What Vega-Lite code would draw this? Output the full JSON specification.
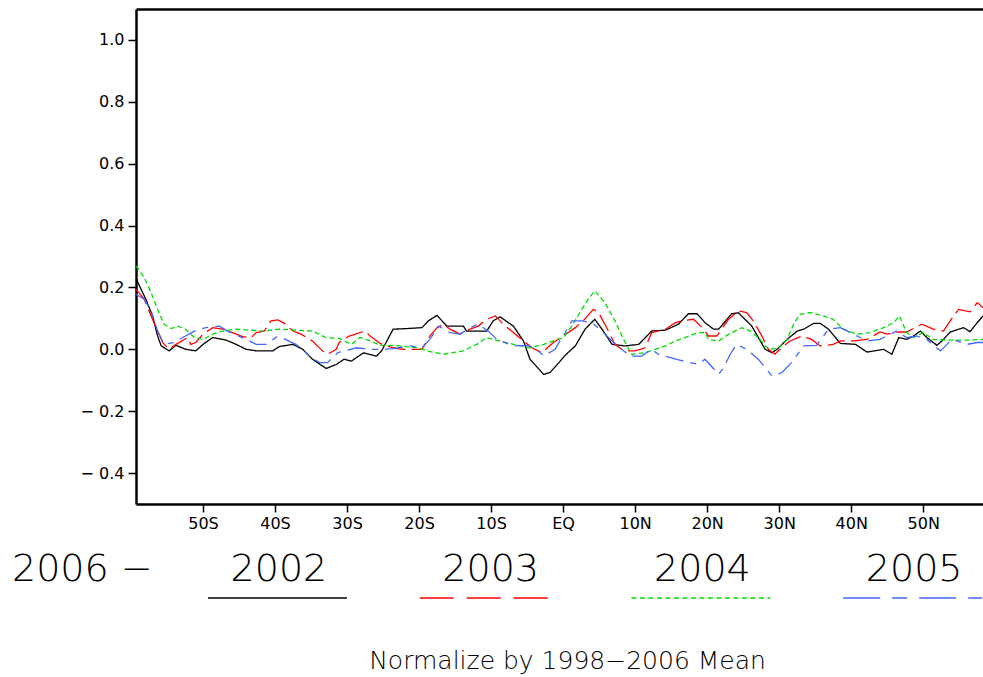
{
"$schema":"https://vega.github.io/schema/vega-lite/v6.json",
"padding":{"left":12,"top":9,"right":0,"bottom":0},
"spacing":10,
"config":{"view":{"stroke":null},"axis":{"grid":false,"domainColor":"black","tickColor":"black","labelColor":"black","labelFont":"DejaVu Sans","labelFontSize":16}},
"datasets":{
"legend":[{"year":"2002"},{"year":"2003"},{"year":"2004"},{"year":"2005"}],
"series":[
{"year":"2002","lat":-59.3,"value":0.229},{"year":"2002","lat":-57.9,"value":0.16},{"year":"2002","lat":-57.0,"value":0.108},{"year":"2002","lat":-56.3,"value":0.043},{"year":"2002","lat":-55.8,"value":0.011},{"year":"2002","lat":-54.7,"value":-0.005},{"year":"2002","lat":-53.75,"value":0.013},{"year":"2002","lat":-52.4,"value":0.0},{"year":"2002","lat":-51.0,"value":-0.005},{"year":"2002","lat":-50.0,"value":0.016},{"year":"2002","lat":-48.65,"value":0.038},{"year":"2002","lat":-46.8,"value":0.03},{"year":"2002","lat":-45.4,"value":0.016},{"year":"2002","lat":-44.0,"value":0.0},{"year":"2002","lat":-42.6,"value":-0.005},{"year":"2002","lat":-40.3,"value":-0.005},{"year":"2002","lat":-39.4,"value":0.009},{"year":"2002","lat":-37.5,"value":0.016},{"year":"2002","lat":-36.15,"value":0.0},{"year":"2002","lat":-34.8,"value":-0.032},{"year":"2002","lat":-32.9,"value":-0.062},{"year":"2002","lat":-31.5,"value":-0.049},{"year":"2002","lat":-30.4,"value":-0.032},{"year":"2002","lat":-29.4,"value":-0.038},{"year":"2002","lat":-27.7,"value":-0.011},{"year":"2002","lat":-25.9,"value":-0.022},{"year":"2002","lat":-25.2,"value":-0.005},{"year":"2002","lat":-23.6,"value":0.065},{"year":"2002","lat":-21.7,"value":0.067},{"year":"2002","lat":-19.6,"value":0.07},{"year":"2002","lat":-18.7,"value":0.092},{"year":"2002","lat":-17.5,"value":0.11},{"year":"2002","lat":-16.15,"value":0.075},{"year":"2002","lat":-13.85,"value":0.075},{"year":"2002","lat":-13.4,"value":0.059},{"year":"2002","lat":-10.6,"value":0.059},{"year":"2002","lat":-9.7,"value":0.092},{"year":"2002","lat":-8.75,"value":0.105},{"year":"2002","lat":-6.9,"value":0.075},{"year":"2002","lat":-5.5,"value":0.027},{"year":"2002","lat":-4.6,"value":-0.032},{"year":"2002","lat":-2.7,"value":-0.081},{"year":"2002","lat":-1.8,"value":-0.075},{"year":"2002","lat":-0.4,"value":-0.038},{"year":"2002","lat":0.3,"value":-0.019},{"year":"2002","lat":1.7,"value":0.011},{"year":"2002","lat":3.05,"value":0.065},{"year":"2002","lat":4.4,"value":0.097},{"year":"2002","lat":5.4,"value":0.065},{"year":"2002","lat":6.8,"value":0.016},{"year":"2002","lat":8.6,"value":0.011},{"year":"2002","lat":10.5,"value":0.016},{"year":"2002","lat":12.3,"value":0.059},{"year":"2002","lat":14.2,"value":0.062},{"year":"2002","lat":16.0,"value":0.081},{"year":"2002","lat":17.4,"value":0.115},{"year":"2002","lat":18.6,"value":0.115},{"year":"2002","lat":19.7,"value":0.086},{"year":"2002","lat":20.9,"value":0.065},{"year":"2002","lat":21.6,"value":0.065},{"year":"2002","lat":23.4,"value":0.115},{"year":"2002","lat":24.35,"value":0.118},{"year":"2002","lat":26.2,"value":0.075},{"year":"2002","lat":28.05,"value":0.0},{"year":"2002","lat":29.0,"value":-0.011},{"year":"2002","lat":29.7,"value":0.0},{"year":"2002","lat":31.1,"value":0.032},{"year":"2002","lat":32.5,"value":0.059},{"year":"2002","lat":33.4,"value":0.065},{"year":"2002","lat":34.8,"value":0.084},{"year":"2002","lat":35.7,"value":0.084},{"year":"2002","lat":36.85,"value":0.065},{"year":"2002","lat":38.5,"value":0.019},{"year":"2002","lat":40.6,"value":0.016},{"year":"2002","lat":42.2,"value":-0.009},{"year":"2002","lat":44.5,"value":0.0},{"year":"2002","lat":45.65,"value":-0.016},{"year":"2002","lat":46.6,"value":0.038},{"year":"2002","lat":47.7,"value":0.032},{"year":"2002","lat":48.65,"value":0.043},{"year":"2002","lat":49.6,"value":0.059},{"year":"2002","lat":50.5,"value":0.038},{"year":"2002","lat":51.9,"value":0.013},{"year":"2002","lat":52.6,"value":0.027},{"year":"2002","lat":53.75,"value":0.056},{"year":"2002","lat":55.6,"value":0.07},{"year":"2002","lat":56.5,"value":0.057},{"year":"2002","lat":57.5,"value":0.086},{"year":"2002","lat":58.3,"value":0.108},
{"year":"2003","lat":-59.3,"value":0.194},{"year":"2003","lat":-58.15,"value":0.162},{"year":"2003","lat":-57.2,"value":0.108},{"year":"2003","lat":-56.3,"value":0.059},{"year":"2003","lat":-55.6,"value":0.022},{"year":"2003","lat":-54.7,"value":0.0},{"year":"2003","lat":-53.75,"value":0.016},{"year":"2003","lat":-52.1,"value":0.038},{"year":"2003","lat":-51.7,"value":0.016},{"year":"2003","lat":-51.0,"value":0.022},{"year":"2003","lat":-50.0,"value":0.049},{"year":"2003","lat":-48.65,"value":0.07},{"year":"2003","lat":-47.3,"value":0.065},{"year":"2003","lat":-45.9,"value":0.054},{"year":"2003","lat":-44.5,"value":0.041},{"year":"2003","lat":-43.3,"value":0.038},{"year":"2003","lat":-42.6,"value":0.054},{"year":"2003","lat":-41.5,"value":0.059},{"year":"2003","lat":-40.55,"value":0.092},{"year":"2003","lat":-39.6,"value":0.095},{"year":"2003","lat":-38.7,"value":0.084},{"year":"2003","lat":-37.5,"value":0.059},{"year":"2003","lat":-36.4,"value":0.049},{"year":"2003","lat":-34.8,"value":0.027},{"year":"2003","lat":-33.4,"value":-0.005},{"year":"2003","lat":-32.7,"value":-0.016},{"year":"2003","lat":-31.5,"value":0.0},{"year":"2003","lat":-31.1,"value":0.022},{"year":"2003","lat":-29.7,"value":0.043},{"year":"2003","lat":-27.5,"value":0.059},{"year":"2003","lat":-26.8,"value":0.043},{"year":"2003","lat":-25.4,"value":0.019},{"year":"2003","lat":-23.6,"value":0.005},{"year":"2003","lat":-22.2,"value":0.0},{"year":"2003","lat":-19.6,"value":0.0},{"year":"2003","lat":-18.5,"value":0.043},{"year":"2003","lat":-17.5,"value":0.07},{"year":"2003","lat":-16.6,"value":0.081},{"year":"2003","lat":-15.7,"value":0.065},{"year":"2003","lat":-14.3,"value":0.049},{"year":"2003","lat":-12.9,"value":0.065},{"year":"2003","lat":-11.8,"value":0.075},{"year":"2003","lat":-10.6,"value":0.097},{"year":"2003","lat":-9.4,"value":0.108},{"year":"2003","lat":-8.3,"value":0.081},{"year":"2003","lat":-6.9,"value":0.054},{"year":"2003","lat":-5.5,"value":0.027},{"year":"2003","lat":-4.35,"value":0.005},{"year":"2003","lat":-2.95,"value":-0.011},{"year":"2003","lat":-1.35,"value":0.022},{"year":"2003","lat":0.05,"value":0.043},{"year":"2003","lat":1.7,"value":0.07},{"year":"2003","lat":2.8,"value":0.092},{"year":"2003","lat":4.2,"value":0.129},{"year":"2003","lat":4.9,"value":0.119},{"year":"2003","lat":5.8,"value":0.081},{"year":"2003","lat":6.5,"value":0.049},{"year":"2003","lat":7.2,"value":0.016},{"year":"2003","lat":8.4,"value":-0.005},{"year":"2003","lat":10.0,"value":-0.005},{"year":"2003","lat":11.4,"value":0.005},{"year":"2003","lat":12.3,"value":0.054},{"year":"2003","lat":14.2,"value":0.065},{"year":"2003","lat":15.6,"value":0.086},{"year":"2003","lat":16.5,"value":0.092},{"year":"2003","lat":18.1,"value":0.097},{"year":"2003","lat":19.3,"value":0.07},{"year":"2003","lat":20.2,"value":0.043},{"year":"2003","lat":21.35,"value":0.043},{"year":"2003","lat":22.96,"value":0.097},{"year":"2003","lat":24.35,"value":0.124},{"year":"2003","lat":25.5,"value":0.119},{"year":"2003","lat":26.4,"value":0.092},{"year":"2003","lat":27.6,"value":0.043},{"year":"2003","lat":28.5,"value":0.0},{"year":"2003","lat":29.4,"value":-0.016},{"year":"2003","lat":30.1,"value":0.0},{"year":"2003","lat":31.5,"value":0.027},{"year":"2003","lat":33.15,"value":0.043},{"year":"2003","lat":34.5,"value":0.032},{"year":"2003","lat":35.7,"value":0.011},{"year":"2003","lat":37.5,"value":0.016},{"year":"2003","lat":38.5,"value":0.027},{"year":"2003","lat":40.3,"value":0.027},{"year":"2003","lat":42.2,"value":0.032},{"year":"2003","lat":44.0,"value":0.056},{"year":"2003","lat":44.96,"value":0.049},{"year":"2003","lat":46.6,"value":0.056},{"year":"2003","lat":47.7,"value":0.056},{"year":"2003","lat":49.8,"value":0.081},{"year":"2003","lat":51.4,"value":0.065},{"year":"2003","lat":52.8,"value":0.059},{"year":"2003","lat":53.75,"value":0.092},{"year":"2003","lat":54.9,"value":0.129},{"year":"2003","lat":56.5,"value":0.121},{"year":"2003","lat":57.5,"value":0.151},{"year":"2003","lat":58.3,"value":0.135},
{"year":"2004","lat":-59.3,"value":0.27},{"year":"2004","lat":-58.15,"value":0.232},{"year":"2004","lat":-57.2,"value":0.183},{"year":"2004","lat":-56.3,"value":0.129},{"year":"2004","lat":-55.4,"value":0.081},{"year":"2004","lat":-54.4,"value":0.067},{"year":"2004","lat":-53.5,"value":0.075},{"year":"2004","lat":-52.4,"value":0.065},{"year":"2004","lat":-51.2,"value":0.038},{"year":"2004","lat":-50.0,"value":0.032},{"year":"2004","lat":-48.65,"value":0.049},{"year":"2004","lat":-47.3,"value":0.059},{"year":"2004","lat":-45.4,"value":0.065},{"year":"2004","lat":-43.6,"value":0.062},{"year":"2004","lat":-41.7,"value":0.059},{"year":"2004","lat":-39.4,"value":0.065},{"year":"2004","lat":-37.1,"value":0.062},{"year":"2004","lat":-34.8,"value":0.059},{"year":"2004","lat":-32.9,"value":0.038},{"year":"2004","lat":-31.1,"value":0.035},{"year":"2004","lat":-29.4,"value":0.016},{"year":"2004","lat":-28.2,"value":0.038},{"year":"2004","lat":-26.8,"value":0.027},{"year":"2004","lat":-25.4,"value":0.013},{"year":"2004","lat":-23.6,"value":0.013},{"year":"2004","lat":-20.3,"value":0.005},{"year":"2004","lat":-18.9,"value":-0.005},{"year":"2004","lat":-16.6,"value":-0.016},{"year":"2004","lat":-13.85,"value":-0.005},{"year":"2004","lat":-12.0,"value":0.016},{"year":"2004","lat":-10.6,"value":0.038},{"year":"2004","lat":-9.2,"value":0.029},{"year":"2004","lat":-6.9,"value":0.016},{"year":"2004","lat":-4.6,"value":0.005},{"year":"2004","lat":-2.7,"value":0.016},{"year":"2004","lat":-1.35,"value":0.027},{"year":"2004","lat":0.05,"value":0.038},{"year":"2004","lat":1.2,"value":0.075},{"year":"2004","lat":2.6,"value":0.129},{"year":"2004","lat":3.5,"value":0.162},{"year":"2004","lat":4.4,"value":0.189},{"year":"2004","lat":5.8,"value":0.151},{"year":"2004","lat":7.2,"value":0.092},{"year":"2004","lat":8.4,"value":0.032},{"year":"2004","lat":9.5,"value":-0.016},{"year":"2004","lat":11.4,"value":-0.011},{"year":"2004","lat":12.8,"value":0.0},{"year":"2004","lat":14.2,"value":0.011},{"year":"2004","lat":15.6,"value":0.027},{"year":"2004","lat":16.9,"value":0.038},{"year":"2004","lat":18.8,"value":0.054},{"year":"2004","lat":19.7,"value":0.054},{"year":"2004","lat":20.2,"value":0.032},{"year":"2004","lat":21.6,"value":0.027},{"year":"2004","lat":23.0,"value":0.049},{"year":"2004","lat":24.8,"value":0.07},{"year":"2004","lat":26.0,"value":0.059},{"year":"2004","lat":27.1,"value":0.038},{"year":"2004","lat":28.5,"value":0.0},{"year":"2004","lat":29.9,"value":0.003},{"year":"2004","lat":31.1,"value":0.032},{"year":"2004","lat":32.0,"value":0.081},{"year":"2004","lat":32.9,"value":0.113},{"year":"2004","lat":34.3,"value":0.119},{"year":"2004","lat":36.15,"value":0.108},{"year":"2004","lat":37.5,"value":0.097},{"year":"2004","lat":38.9,"value":0.065},{"year":"2004","lat":40.8,"value":0.049},{"year":"2004","lat":42.6,"value":0.054},{"year":"2004","lat":44.5,"value":0.07},{"year":"2004","lat":45.9,"value":0.086},{"year":"2004","lat":46.7,"value":0.108},{"year":"2004","lat":47.7,"value":0.054},{"year":"2004","lat":48.65,"value":0.038},{"year":"2004","lat":50.0,"value":0.054},{"year":"2004","lat":51.4,"value":0.032},{"year":"2004","lat":53.3,"value":0.03},{"year":"2004","lat":56.5,"value":0.03},{"year":"2004","lat":58.3,"value":0.032},
{"year":"2005","lat":-59.3,"value":0.178},{"year":"2005","lat":-58.15,"value":0.162},{"year":"2005","lat":-57.2,"value":0.124},{"year":"2005","lat":-56.3,"value":0.059},{"year":"2005","lat":-55.4,"value":0.016},{"year":"2005","lat":-54.0,"value":0.022},{"year":"2005","lat":-52.8,"value":0.038},{"year":"2005","lat":-51.2,"value":0.059},{"year":"2005","lat":-49.6,"value":0.07},{"year":"2005","lat":-47.7,"value":0.075},{"year":"2005","lat":-46.6,"value":0.059},{"year":"2005","lat":-44.0,"value":0.032},{"year":"2005","lat":-42.6,"value":0.016},{"year":"2005","lat":-41.25,"value":0.016},{"year":"2005","lat":-39.6,"value":0.043},{"year":"2005","lat":-37.1,"value":0.016},{"year":"2005","lat":-36.15,"value":0.0},{"year":"2005","lat":-35.0,"value":-0.027},{"year":"2005","lat":-33.8,"value":-0.043},{"year":"2005","lat":-32.7,"value":-0.043},{"year":"2005","lat":-31.3,"value":-0.011},{"year":"2005","lat":-28.65,"value":0.005},{"year":"2005","lat":-27.0,"value":0.0},{"year":"2005","lat":-25.2,"value":0.0},{"year":"2005","lat":-23.6,"value":0.002},{"year":"2005","lat":-21.25,"value":0.011},{"year":"2005","lat":-19.6,"value":0.005},{"year":"2005","lat":-18.5,"value":0.032},{"year":"2005","lat":-17.3,"value":0.075},{"year":"2005","lat":-15.7,"value":0.054},{"year":"2005","lat":-14.3,"value":0.049},{"year":"2005","lat":-12.9,"value":0.07},{"year":"2005","lat":-11.8,"value":0.081},{"year":"2005","lat":-10.4,"value":0.059},{"year":"2005","lat":-9.2,"value":0.032},{"year":"2005","lat":-6.9,"value":0.011},{"year":"2005","lat":-5.0,"value":0.013},{"year":"2005","lat":-3.65,"value":0.0},{"year":"2005","lat":-2.7,"value":-0.022},{"year":"2005","lat":-1.1,"value":0.0},{"year":"2005","lat":-0.2,"value":0.038},{"year":"2005","lat":0.3,"value":0.054},{"year":"2005","lat":1.2,"value":0.092},{"year":"2005","lat":2.6,"value":0.092},{"year":"2005","lat":4.0,"value":0.086},{"year":"2005","lat":5.1,"value":0.065},{"year":"2005","lat":6.8,"value":0.027},{"year":"2005","lat":7.9,"value":0.005},{"year":"2005","lat":9.3,"value":-0.022},{"year":"2005","lat":10.9,"value":-0.022},{"year":"2005","lat":12.3,"value":0.0},{"year":"2005","lat":13.2,"value":-0.016},{"year":"2005","lat":14.9,"value":-0.027},{"year":"2005","lat":16.7,"value":-0.038},{"year":"2005","lat":18.8,"value":-0.049},{"year":"2005","lat":19.7,"value":-0.032},{"year":"2005","lat":21.6,"value":-0.081},{"year":"2005","lat":22.3,"value":-0.059},{"year":"2005","lat":23.2,"value":-0.016},{"year":"2005","lat":24.1,"value":0.016},{"year":"2005","lat":25.5,"value":0.0},{"year":"2005","lat":27.1,"value":-0.032},{"year":"2005","lat":29.0,"value":-0.086},{"year":"2005","lat":30.4,"value":-0.075},{"year":"2005","lat":31.7,"value":-0.043},{"year":"2005","lat":32.9,"value":-0.005},{"year":"2005","lat":33.4,"value":0.011},{"year":"2005","lat":35.2,"value":0.013},{"year":"2005","lat":36.85,"value":0.065},{"year":"2005","lat":38.5,"value":0.07},{"year":"2005","lat":39.9,"value":0.054},{"year":"2005","lat":42.2,"value":0.027},{"year":"2005","lat":44.0,"value":0.032},{"year":"2005","lat":44.96,"value":0.043},{"year":"2005","lat":46.3,"value":0.059},{"year":"2005","lat":47.7,"value":0.038},{"year":"2005","lat":49.1,"value":0.043},{"year":"2005","lat":50.5,"value":0.032},{"year":"2005","lat":52.4,"value":-0.005},{"year":"2005","lat":54.0,"value":0.032},{"year":"2005","lat":56.1,"value":0.016},{"year":"2005","lat":57.5,"value":0.022},{"year":"2005","lat":58.3,"value":0.022}
]},
"resolve":{"scale":{"x":"independent","y":"independent","color":"independent","strokeDash":"independent"}},
"vconcat":[
{"width":847,"height":495,"data":{"name":"series"},
 "layer":[
  {"mark":{"type":"line","strokeWidth":1.3,"clip":true},
   "encoding":{
    "x":{"field":"lat","type":"quantitative","scale":{"domain":[-59.3,58.3],"nice":false,"zero":false},
         "axis":{"orient":"bottom","values":[-50,-40,-30,-20,-10,0,10,20,30,40,50],"labelExpr":"datum.value < 0 ? (-datum.value) + 'S' : (datum.value > 0 ? datum.value + 'N' : 'EQ')","tickSize":8,"tickWidth":1.5,"domainWidth":2.5,"labelPadding":3,"title":null,"labelFlush":false,"labelFont":"DejaVu Sans","labelFontSize":16}},
    "y":{"field":"value","type":"quantitative","scale":{"domain":[-0.5,1.1],"nice":false,"zero":false},
         "axis":{"values":[-0.4,-0.2,0,0.2,0.4,0.6,0.8,1.0],"labelExpr":"datum.value < 0 ? '− ' + format(-datum.value,'.1f') : format(datum.value,'.1f')","tickSize":8,"tickWidth":1.5,"domainWidth":2.5,"labelPadding":4,"title":null,"labelFont":"DejaVu Sans","labelFontSize":16}},
    "color":{"field":"year","type":"nominal","scale":{"domain":["2002","2003","2004","2005"],"range":["#000000","#ff0000","#00dd00","#4466ff"]},"legend":null},
    "strokeDash":{"field":"year","type":"nominal","scale":{"domain":["2002","2003","2004","2005"],"range":[[1,0],[18,6],[5,3],[18,7,6,7]]},"legend":null}
   }},
  {"mark":{"type":"rule","opacity":0},
   "encoding":{"x":{"field":"lat","type":"quantitative","axis":{"orient":"top","labels":false,"ticks":false,"domainWidth":2.5,"title":null}}}}
 ],
 "resolve":{"axis":{"x":"independent"}}
},
{"width":847,"height":60,"data":{"name":"legend"},
 "title":{"text":"Normalize by 1998−2006 Mean","orient":"bottom","anchor":"middle","offset":48,"dx":8,"font":"DejaVu Sans","fontSize":25,"fontWeight":300,"color":"black"},
 "layer":[
  {"mark":{"type":"text","font":"DejaVu Sans","fontSize":38,"fontWeight":200,"baseline":"alphabetic","align":"center","color":"black"},
   "encoding":{"x":{"field":"year","type":"ordinal","scale":{"type":"point","padding":0.5,"align":0.675},"axis":null},"y":{"value":40},"text":{"field":"year"}}},
  {"mark":{"type":"rule","strokeWidth":1.5,"xOffset":-71,"x2Offset":68},
   "encoding":{"x":{"field":"year","type":"ordinal","axis":null},"x2":{"field":"year"},"y":{"value":57},
    "color":{"field":"year","type":"nominal","scale":{"domain":["2002","2003","2004","2005"],"range":["#000000","#ff0000","#00dd00","#4466ff"]},"legend":null},
    "strokeDash":{"field":"year","type":"nominal","scale":{"domain":["2002","2003","2004","2005"],"range":[[1,0],[34,13],[5,3.5],[37,12,15,12]]},"legend":null}}},
  {"data":{"values":[{"label":"2006 −"}]},
   "mark":{"type":"text","font":"DejaVu Sans","fontSize":38,"fontWeight":200,"baseline":"alphabetic","align":"left","color":"black"},
   "encoding":{"x":{"value":-124},"y":{"value":40},"text":{"field":"label"}}}
 ]
}
]
}
